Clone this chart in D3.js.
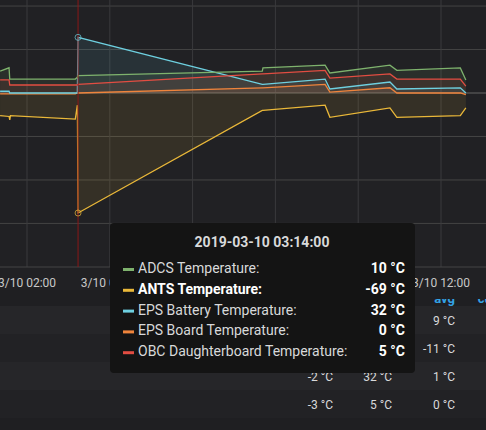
<!DOCTYPE html>
<html><head><meta charset="utf-8">
<script src="https://cdn.jsdelivr.net/npm/d3@7"></script>
<style>body{margin:0;background:#1f1f22;font-family:Roboto,sans-serif}</style>
</head><body><svg id="c" width="486" height="430"></svg>
<script>
const seriesNames = ["ADCS Temperature","ANTS Temperature","EPS Battery Temperature","EPS Board Temperature","OBC Daughterboard Temperature"];
const seriesColors = ["#7eb26d","#eab839","#6ed0e0","#ef843c","#e24d42"];
const times = ["01:21","01:34","01:35","01:36","03:10","03:13","03:14","07:41","07:42","09:12","09:19","10:46","10:56","12:28","12:36"];
const adcs   = [12.6,14.5,8,8,8,9,10,12.6,14.4,16,11.5,16,13,14.4,7.5];
const ants   = [-13,-13.5,-15.5,-13,-15,-7,-69,-10,-10,-7,-14,-8.6,-14,-13,-8.6];
const epsBat = [1,1,0,0,0,0,32,5,5,8,2.3,6.3,2.3,3,0];
const epsBrd = [-0.5,-0.5,-0.5,-0.5,-0.5,0,0,3,3,5,0.5,3,0,0,-1];
const obc    = [7.5,7.5,4.6,4.6,4.6,4.6,5,11,11,13,8.6,11,8,8,4];
const seriesValues = [adcs,ants,epsBat,epsBrd,obc];
const xTickLabels = ["3/10 02:00","3/10 04:00","3/10 06:00","3/10 08:00","3/10 10:00","3/10 12:00"];
const yTicks = [50,25,0,-25,-50,-75];
const hoverTime = "03:14";
const hoverValues = ["10 °C","-69 °C","32 °C","0 °C","5 °C"];
const tableHeaders = ["min","max","avg","current"];
const tableRows = [["","","9 °C",""],["","","-11 °C","-"],["-2 °C","32 °C","1 °C",""],["-3 °C","5 °C","0 °C",""]];

const svg = d3.select("#c");
const pt = d3.timeParse("%Y-%m-%d %H:%M");
const T = s => pt("2019-03-10 "+s);
const x = d3.scaleTime().domain([T("02:00"),T("12:00")]).range([27,441]);
const y = d3.scaleLinear().domain([0,-69]).range([93,213]);
svg.append("rect").attr("width",486).attr("height",290).attr("fill","#212124");
svg.append("g").selectAll("line").data(yTicks).join("line")
 .attr("x1",0).attr("x2",486).attr("y1",d=>y(d)).attr("y2",d=>y(d)).attr("stroke","#444").attr("stroke-width",1);
const xt = xTickLabels.map((d,i)=>T(String(2+2*i).padStart(2,"0")+":00"));
svg.append("g").selectAll("line").data(xt).join("line")
 .attr("x1",d=>x(d)).attr("x2",d=>x(d)).attr("y1",0).attr("y2",267).attr("stroke","#3a3a3d");
svg.append("line").attr("x1",0).attr("x2",486).attr("y1",267).attr("y2",267).attr("stroke","#444");
svg.append("line").attr("x1",0).attr("x2",486).attr("y1",y(0)).attr("y2",y(0)).attr("stroke","#555");
const area = d3.area().x(d=>x(T(d[0]))).y0(y(0)).y1(d=>y(d[1]));
const line = d3.line().x(d=>x(T(d[0]))).y(d=>y(d[1]));
seriesValues.forEach((vals,i)=>{
  const data = times.map((t,j)=>[t,vals[j]]);
  svg.append("path").attr("d",area(data)).attr("fill",seriesColors[i]).attr("opacity",0.1);
});
[1,3,2,4,0].forEach(i=>{
  const data = times.map((t,j)=>[t,seriesValues[i][j]]);
  svg.append("path").attr("d",line(data)).attr("fill","none").attr("stroke",seriesColors[i]).attr("stroke-width",1.3);
});
svg.append("line").attr("x1",x(T(hoverTime))).attr("x2",x(T(hoverTime))).attr("y1",0).attr("y2",267).attr("stroke","#8a1818");
[1,2].forEach(i=>{
  const j = times.indexOf(hoverTime);
  svg.append("circle").attr("cx",x(T(hoverTime))).attr("cy",y(seriesValues[i][j])).attr("r",3)
   .attr("fill","none").attr("stroke",seriesColors[i]).attr("stroke-opacity",0.7);
});
svg.append("g").selectAll("text").data(xTickLabels).join("text")
 .attr("x",(d,i)=>x(xt[i])).attr("y",287).attr("text-anchor","middle").attr("fill","#c8c8c8").attr("font-size",12).text(d=>d);
svg.append("rect").attr("y",290).attr("width",486).attr("height",140).attr("fill","#1f1f22");
svg.append("rect").attr("y",306).attr("width",486).attr("height",28).attr("fill","#262629");
svg.append("rect").attr("y",362).attr("width",486).attr("height",28).attr("fill","#262629");
svg.append("rect").attr("y",334).attr("width",486).attr("height",28).attr("fill","#222225");
svg.append("rect").attr("y",390).attr("width",486).attr("height",28).attr("fill","#222225");
const colX = [333,392,455,520];
svg.append("clipPath").attr("id","hc").append("rect").attr("y",299).attr("width",486).attr("height",8);
svg.append("g").attr("clip-path","url(#hc)").selectAll("text").data(tableHeaders).join("text")
 .attr("x",(d,i)=>colX[i]).attr("y",303).attr("text-anchor","end").attr("fill","#33a2e5").attr("font-weight","bold").attr("font-size",13).text(d=>d);
tableRows.forEach((r,ri)=>{
  svg.append("g").selectAll("text").data(r).join("text").attr("x",(d,i)=>colX[i]).attr("y",325+ri*28)
   .attr("text-anchor","end").attr("fill","#d8d9da").attr("font-size",12).text(d=>d);
});
const tt = svg.append("g");
tt.append("rect").attr("x",110).attr("y",223).attr("width",305).attr("height",150).attr("rx",4).attr("fill","#141414");
tt.append("text").attr("x",262).attr("y",247).attr("text-anchor","middle").attr("fill","#d8d9da").attr("font-weight","bold").attr("font-size",14).text("2019-03-10 "+hoverTime+":00");
seriesNames.forEach((n,i)=>{
  const yy = 273+i*20.8;
  tt.append("rect").attr("x",123).attr("y",yy-5).attr("width",11).attr("height",3).attr("fill",seriesColors[i]);
  tt.append("text").attr("x",138).attr("y",yy).attr("fill",i==1?"#fff":"#d8d9da").attr("font-weight",i==1?"bold":"normal").attr("font-size",14).text(n+":");
  tt.append("text").attr("x",405).attr("y",yy).attr("text-anchor","end").attr("fill","#fff").attr("font-weight","bold").attr("font-size",14).text(hoverValues[i]);
});
</script></body></html>
